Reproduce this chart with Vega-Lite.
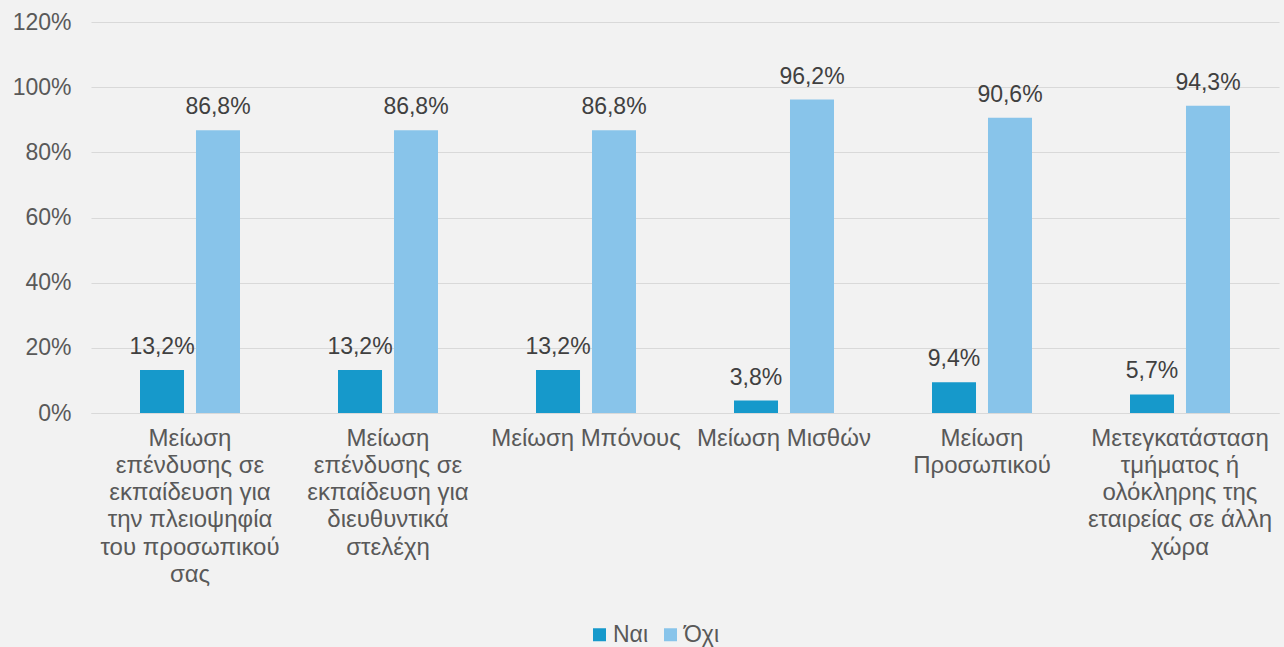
{
  "$schema": "https://vega.github.io/schema/vega-lite/v6.json",
  "width": 1188,
  "height": 391,
  "autosize": {"type": "none"},
  "padding": {"left": 91, "top": 22, "right": 5, "bottom": 234},
  "background": "#f2f2f2",
  "config": {
    "locale": {"number": {"decimal": ",", "thousands": ".", "grouping": [3], "currency": ["", " €"]}},
    "view": {"stroke": null},
    "font": "Liberation Sans"
  },
  "data": {
    "values": [
      {"cat": "Μείωση\nεπένδυσης σε\nεκπαίδευση για\nτην πλειοψηφία\nτου προσωπικού\nσας", "series": "Ναι", "v": 0.132},
      {"cat": "Μείωση\nεπένδυσης σε\nεκπαίδευση για\nτην πλειοψηφία\nτου προσωπικού\nσας", "series": "Όχι", "v": 0.868},
      {"cat": "Μείωση\nεπένδυσης σε\nεκπαίδευση για\nδιευθυντικά\nστελέχη", "series": "Ναι", "v": 0.132},
      {"cat": "Μείωση\nεπένδυσης σε\nεκπαίδευση για\nδιευθυντικά\nστελέχη", "series": "Όχι", "v": 0.868},
      {"cat": "Μείωση Μπόνους", "series": "Ναι", "v": 0.132},
      {"cat": "Μείωση Μπόνους", "series": "Όχι", "v": 0.868},
      {"cat": "Μείωση Μισθών", "series": "Ναι", "v": 0.038},
      {"cat": "Μείωση Μισθών", "series": "Όχι", "v": 0.962},
      {"cat": "Μείωση\nΠροσωπικού", "series": "Ναι", "v": 0.094},
      {"cat": "Μείωση\nΠροσωπικού", "series": "Όχι", "v": 0.906},
      {"cat": "Μετεγκατάσταση\nτμήματος ή\nολόκληρης της\nεταιρείας σε άλλη\nχώρα", "series": "Ναι", "v": 0.057},
      {"cat": "Μετεγκατάσταση\nτμήματος ή\nολόκληρης της\nεταιρείας σε άλλη\nχώρα", "series": "Όχι", "v": 0.943}
    ]
  },
  "encoding": {
    "x": {
      "field": "cat", "type": "nominal", "sort": null,
      "scale": {"paddingInner": 0.495, "paddingOuter": 0.2475},
      "axis": {
        "title": null, "labelAngle": 0, "ticks": false,
        "domainColor": "#d9d9d9", "domainWidth": 1,
        "labelFontSize": 24, "labelColor": "#595959", "labelPadding": 13,
        "labelLineHeight": 27.3, "labelBaseline": "top", "labelLimit": 0,
        "labelOverlap": false, "labelBound": false,
        "labelExpr": "split(datum.label, '\\n')"
      }
    },
    "xOffset": {"field": "series", "type": "nominal", "sort": ["Ναι", "Όχι"], "scale": {"paddingInner": 0.214, "paddingOuter": 0}},
    "y": {
      "field": "v", "type": "quantitative",
      "scale": {"domain": [0, 1.2], "nice": false},
      "axis": {
        "title": null, "values": [0, 0.2, 0.4, 0.6, 0.8, 1.0, 1.2], "format": ".0%",
        "domain": false, "ticks": false, "gridColor": "#d9d9d9", "gridWidth": 1,
        "labelFontSize": 23, "labelColor": "#595959", "labelPadding": 20
      }
    }
  },
  "layer": [
    {
      "mark": {"type": "bar"},
      "encoding": {
        "color": {
          "field": "series", "type": "nominal",
          "scale": {"domain": ["Ναι", "Όχι"], "range": ["#1699cb", "#88c4ea"]},
          "legend": {
            "title": null, "orient": "none", "direction": "horizontal",
            "legendX": 497, "legendY": 601,
            "symbolType": "square", "symbolSize": 169, "symbolStrokeWidth": 0,
            "labelFontSize": 23, "labelColor": "#595959", "columnPadding": 10,
            "labelOffset": 2
          }
        }
      }
    },
    {
      "mark": {"type": "text", "dy": -16, "baseline": "alphabetic", "fontSize": 23, "color": "#404040"},
      "encoding": {"text": {"field": "v", "type": "quantitative", "format": ".1%"}}
    }
  ]
}
